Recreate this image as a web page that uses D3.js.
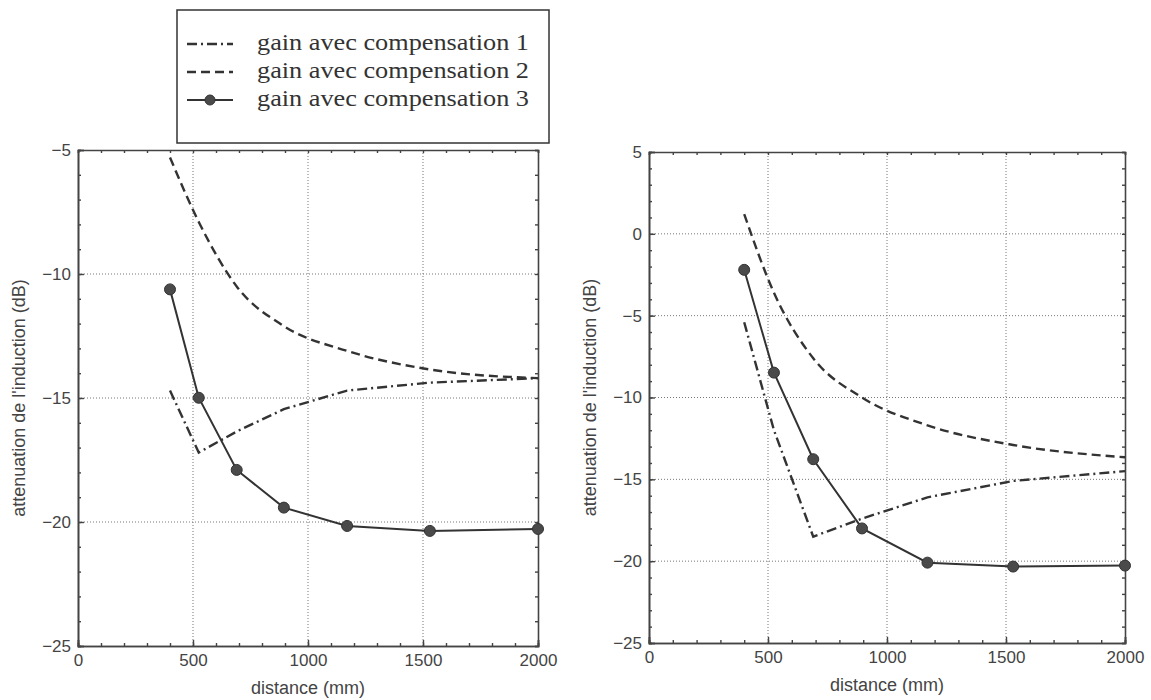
<!DOCTYPE html>
<html>
<head>
<meta charset="utf-8">
<script src="https://cdn.jsdelivr.net/npm/d3@7"></script>
<style>
  html, body { margin: 0; padding: 0; background: #fff; }
  svg { display: block; }
</style>
</head>
<body>
<svg id="chart" width="1151" height="700"></svg>
<script>
/* ---- data ------------------------------------------------------ */
const distances = [400, 525, 690, 895, 1170, 1530, 2000];

// left panel
const comp1Left = [-14.7, -17.2, -16.35, -15.45, -14.7, -14.38, -14.2];
const comp2Left = [-5.3, -7.9, -10.5, -12.1, -13.1, -13.85, -14.2];
const comp3Left = [-10.62, -14.99, -17.9, -19.42, -20.16, -20.36, -20.28];

// right panel
const comp1Right = [-5.4, -12.0, -18.5, -17.4, -16.1, -15.1, -14.5];
const comp2Right = [1.2, -3.6, -7.6, -10.0, -11.7, -12.9, -13.65];
const comp3Right = [-2.2, -8.48, -13.77, -18.0, -20.09, -20.33, -20.27];

const legendLabels = [
  "gain avec compensation 1",
  "gain avec compensation 2",
  "gain avec compensation 3"
];
const xTicks = [0, 500, 1000, 1500, 2000];
const yTicksLeft = [-25, -20, -15, -10, -5];
const yTicksRight = [-25, -20, -15, -10, -5, 0, 5];
const xLabel = "distance (mm)";
const yLabel = "attenuation de l'induction (dB)";

/* ---- styles ---------------------------------------------------- */
const ink = "#333";
const styles = [
  { dash: "10,4,2,4", width: 2.4 },  // compensation 1 : dash-dot
  { dash: "9,5",      width: 2.4 },  // compensation 2 : dashed
  { dash: null,       width: 2.0 }   // compensation 3 : solid + dots
];
const fmt = d => String(d).replace("-", "\u2212");

const svg = d3.select("#chart");

/* ---- one panel ------------------------------------------------- */
function panel({ xRange, yDomain, yRange, yTicks, series, yLabelX }) {
  const x = d3.scaleLinear([0, 2000], xRange);
  const y = d3.scaleLinear(yDomain, yRange);
  const g = svg.append("g");

  // dotted grid
  g.append("g").selectAll("line")
    .data(xTicks.slice(1, -1))
    .join("line")
      .attr("x1", d => x(d)).attr("x2", d => x(d))
      .attr("y1", yRange[0]).attr("y2", yRange[1])
      .attr("stroke", "#777").attr("stroke-width", 1)
      .attr("stroke-dasharray", "1,2");
  g.append("g").selectAll("line")
    .data(yTicks.slice(1, -1))
    .join("line")
      .attr("y1", d => y(d)).attr("y2", d => y(d))
      .attr("x1", xRange[0]).attr("x2", xRange[1])
      .attr("stroke", "#777").attr("stroke-width", 1)
      .attr("stroke-dasharray", "1,2");

  // axes: major + minor ticks on all four sides, pointing inward
  const minorX = d3.range(0, 2001, 100);
  const minorY = d3.range(yDomain[0], yDomain[1] + 1, 1);
  const axisStyle = sel => {
    sel.select(".domain").attr("stroke", "#444").attr("stroke-width", 1.6);
    sel.selectAll(".tick line").attr("stroke", "#444").attr("stroke-width", 1.4);
    sel.selectAll("text")
      .attr("font-family", "'Liberation Sans', Arial, sans-serif")
      .attr("font-size", 17).attr("fill", "#444");
  };

  g.append("g").attr("transform", `translate(0,${yRange[0]})`)
    .call(d3.axisBottom(x).tickValues(xTicks).tickSize(-6).tickPadding(8).tickFormat(fmt))
    .call(axisStyle);
  g.append("g").attr("transform", `translate(0,${yRange[0]})`)
    .call(d3.axisBottom(x).tickValues(minorX).tickSize(-3).tickFormat(""))
    .call(axisStyle);
  g.append("g").attr("transform", `translate(0,${yRange[1]})`)
    .call(d3.axisTop(x).tickValues(minorX).tickSize(-3).tickFormat(""))
    .call(axisStyle);

  g.append("g").attr("transform", `translate(${xRange[0]},0)`)
    .call(d3.axisLeft(y).tickValues(yTicks).tickSize(-6).tickPadding(7).tickFormat(fmt))
    .call(axisStyle);
  g.append("g").attr("transform", `translate(${xRange[0]},0)`)
    .call(d3.axisLeft(y).tickValues(minorY).tickSize(-3).tickFormat(""))
    .call(axisStyle);
  g.append("g").attr("transform", `translate(${xRange[1]},0)`)
    .call(d3.axisRight(y).tickValues(minorY).tickSize(-3).tickFormat(""))
    .call(axisStyle);

  // axis titles
  g.append("text")
    .attr("x", (xRange[0] + xRange[1]) / 2)
    .attr("y", yRange[0] + 48)
    .attr("text-anchor", "middle")
    .attr("font-family", "'Liberation Sans', Arial, sans-serif")
    .attr("font-size", 18).attr("fill", "#444")
    .text(xLabel);
  g.append("text")
    .attr("transform", `translate(${yLabelX},${(yRange[0] + yRange[1]) / 2}) rotate(-90)`)
    .attr("text-anchor", "middle")
    .attr("dominant-baseline", "middle")
    .attr("font-family", "'Liberation Sans', Arial, sans-serif")
    .attr("font-size", 18).attr("fill", "#444")
    .text(yLabel);

  // curves
  const lineLin = d3.line().x((d, i) => x(distances[i])).y(d => y(d));
  const lineSmooth = d3.line().x((d, i) => x(distances[i])).y(d => y(d))
    .curve(d3.curveMonotoneX);

  series.forEach((vals, k) => {
    const st = styles[k];
    g.append("path")
      .datum(vals)
      .attr("fill", "none")
      .attr("stroke", ink)
      .attr("stroke-width", st.width)
      .attr("stroke-dasharray", st.dash)
      .attr("d", k === 1 ? lineSmooth(vals) : lineLin(vals));
  });

  g.append("g").selectAll("circle")
    .data(series[2])
    .join("circle")
      .attr("cx", (d, i) => x(distances[i]))
      .attr("cy", d => y(d))
      .attr("r", 5.5)
      .attr("fill", "#4a4a4a")
      .attr("stroke", "#333");
}

panel({
  xRange: [78, 538], yDomain: [-25, -5], yRange: [646, 150],
  yTicks: yTicksLeft, series: [comp1Left, comp2Left, comp3Left], yLabelX: 20
});
panel({
  xRange: [649, 1125], yDomain: [-25, 5], yRange: [643, 152],
  yTicks: yTicksRight, series: [comp1Right, comp2Right, comp3Right], yLabelX: 591
});

/* ---- legend ---------------------------------------------------- */
const lg = svg.append("g").attr("transform", "translate(177,10)");
lg.append("rect")
  .attr("width", 372).attr("height", 133)
  .attr("fill", "#fff").attr("stroke", "#333").attr("stroke-width", 1.5);

const rowY = d3.scalePoint(legendLabels, [34, 90]);
legendLabels.forEach((lab, k) => {
  const yy = rowY(lab);
  lg.append("line")
    .attr("x1", 10).attr("x2", 56).attr("y1", yy).attr("y2", yy)
    .attr("stroke", ink).attr("stroke-width", styles[k].width)
    .attr("stroke-dasharray", styles[k].dash);
  if (k === 2) {
    lg.append("circle").attr("cx", 33).attr("cy", yy).attr("r", 5)
      .attr("fill", "#4a4a4a").attr("stroke", "#333");
  }
  lg.append("text")
    .attr("x", 80).attr("y", yy)
    .attr("dominant-baseline", "middle")
    .attr("font-family", "'Liberation Serif', 'Times New Roman', serif")
    .attr("font-size", 24).attr("fill", "#333")
    .attr("textLength", 272).attr("lengthAdjust", "spacingAndGlyphs")
    .text(lab);
});
</script>
</body>
</html>
